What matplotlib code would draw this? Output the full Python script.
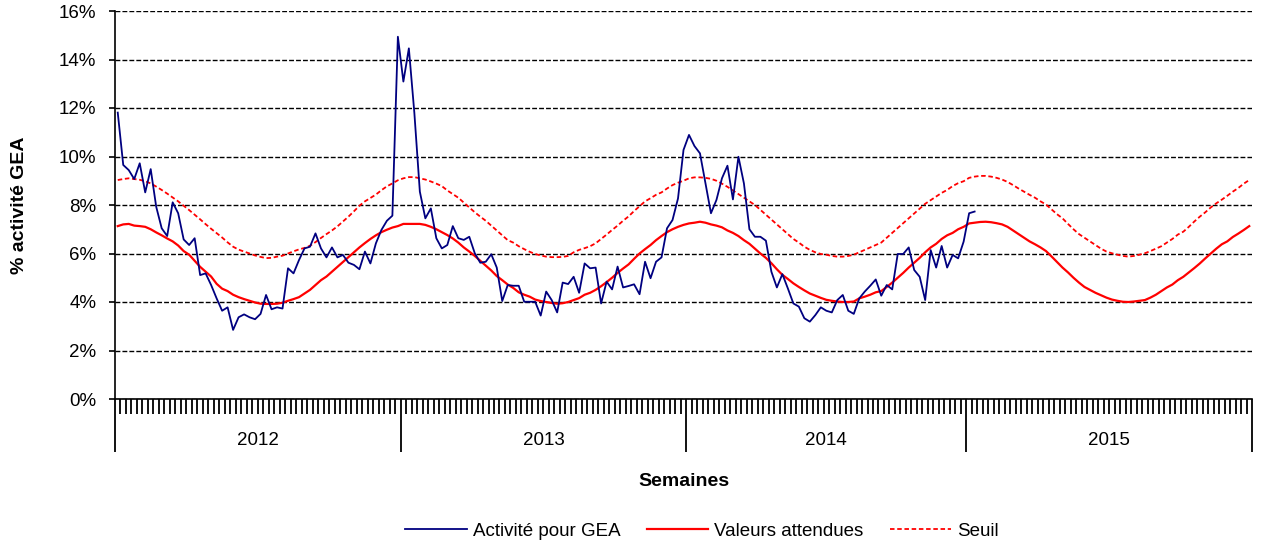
import numpy as np
import matplotlib
matplotlib.use("Agg")
import matplotlib.pyplot as plt
from matplotlib.ticker import FixedLocator, FuncFormatter

plt.rcParams['font.family'] = ['Liberation Sans', 'DejaVu Sans']

# années et nombre de semaines affichées
years = ['2012', '2013', '2014', '2015']
weeks_per_year = [52, 52, 51, 52]

# % activité pour GEA (hebdomadaire, 2012 -> début 2015)
activite = [
    # 2012
    11.81, 9.65, 9.44, 9.07, 9.72, 8.52, 9.48, 7.93, 7.04, 6.72, 8.11, 7.66, 6.58,
    6.35, 6.63, 5.11, 5.18, 4.70, 4.15, 3.64, 3.78, 2.85, 3.37, 3.49, 3.37, 3.29,
    3.51, 4.29, 3.70, 3.78, 3.73, 5.39, 5.18, 5.73, 6.21, 6.28, 6.83, 6.21, 5.84,
    6.25, 5.84, 5.94, 5.62, 5.53, 5.35, 6.08, 5.59, 6.42, 6.97, 7.35, 7.56, 14.94,
    # 2013
    13.09, 14.46, 11.8, 8.55, 7.45, 7.86, 6.63, 6.21, 6.35, 7.13, 6.63, 6.56, 6.69,
    6.01, 5.62, 5.66, 5.97, 5.42, 4.04, 4.70, 4.67, 4.67, 4.01, 4.01, 4.01, 3.44,
    4.43, 4.08, 3.57, 4.80, 4.74, 5.04, 4.38, 5.59, 5.39, 5.42, 3.94, 4.84, 4.52,
    5.46, 4.60, 4.66, 4.73, 4.32, 5.66, 4.98, 5.66, 5.84, 7.04, 7.38, 8.27, 10.27,
    # 2014 + début 2015
    10.89, 10.43, 10.13, 8.9, 7.66, 8.21, 9.10, 9.62, 8.23, 9.99, 8.89, 7.00, 6.69,
    6.69, 6.53, 5.25, 4.60, 5.15, 4.56, 3.94, 3.81, 3.33, 3.19, 3.46, 3.78, 3.64,
    3.57, 4.08, 4.29, 3.64, 3.51, 4.15, 4.43, 4.67, 4.93, 4.26, 4.70, 4.52, 5.98,
    5.98, 6.25, 5.32, 5.04, 4.08, 6.14, 5.42, 6.31, 5.42, 5.94, 5.80, 6.49, 7.66,
    7.73,
]

# valeurs attendues
attendues = [
    # 2012
    7.13, 7.2, 7.22, 7.15, 7.13, 7.10, 7.0, 6.87, 6.75, 6.62, 6.5, 6.33, 6.1,
    5.95, 5.7, 5.45, 5.25, 5.05, 4.75, 4.55, 4.45, 4.3, 4.2, 4.12, 4.05, 3.98,
    3.93, 3.92, 3.92, 3.93, 3.97, 4.05, 4.12, 4.2, 4.35, 4.5, 4.7, 4.9, 5.05,
    5.25, 5.45, 5.65, 5.85, 6.05, 6.25, 6.43, 6.6, 6.75, 6.88, 6.98, 7.07, 7.13,
    # 2013
    7.22, 7.22, 7.22, 7.22, 7.18, 7.1, 7.0, 6.88, 6.76, 6.62, 6.45, 6.25, 6.08,
    5.9, 5.7, 5.5, 5.3, 5.07, 4.9, 4.72, 4.58, 4.4, 4.3, 4.22, 4.1, 4.04,
    4.0, 3.96, 3.93, 3.95, 4.0, 4.08, 4.16, 4.3, 4.38, 4.5, 4.65, 4.82, 5.0,
    5.2, 5.38, 5.55, 5.78, 6.0, 6.18, 6.35, 6.55, 6.72, 6.88, 7.0, 7.1, 7.18,
    # 2014
    7.24, 7.27, 7.31, 7.27, 7.2, 7.15, 7.08, 6.95, 6.85, 6.72, 6.55, 6.4, 6.2,
    6.0, 5.82, 5.6, 5.35, 5.12, 4.95, 4.77, 4.62, 4.48, 4.35, 4.26, 4.17, 4.09,
    4.05, 4.02, 4.0, 4.0, 4.02, 4.15, 4.22, 4.3, 4.4, 4.45, 4.62, 4.8, 5.0,
    5.2, 5.42, 5.62, 5.82, 6.05, 6.25, 6.4, 6.6, 6.75, 6.85, 7.0, 7.1,
    # 2015
    7.24, 7.27, 7.3, 7.31, 7.29, 7.25, 7.2, 7.1, 6.95, 6.8, 6.65, 6.5, 6.38,
    6.25, 6.1, 5.88, 5.65, 5.42, 5.22, 5.0, 4.8, 4.62, 4.5, 4.38, 4.28, 4.18,
    4.1, 4.05, 4.01, 4.0, 4.02, 4.05, 4.08, 4.18, 4.3, 4.45, 4.6, 4.72, 4.9,
    5.04, 5.22, 5.4, 5.59, 5.8, 6.0, 6.2, 6.38, 6.5, 6.68, 6.82, 6.97, 7.13,
]

# seuil épidémique
seuil = [
    # 2012
    9.03, 9.07, 9.10, 9.07, 9.04, 8.98, 8.89, 8.76, 8.62, 8.47, 8.31, 8.15, 7.97,
    7.79, 7.60, 7.41, 7.21, 7.02, 6.84, 6.66, 6.46, 6.28, 6.16, 6.08, 6.0, 5.92,
    5.86, 5.81, 5.82, 5.87, 5.91, 6.0, 6.09, 6.17, 6.23, 6.32, 6.47, 6.64, 6.80,
    6.95, 7.12, 7.32, 7.52, 7.74, 7.97, 8.15, 8.29, 8.43, 8.61, 8.77, 8.89, 9.02,
    # 2013
    9.1, 9.15, 9.15, 9.1, 9.05, 8.97, 8.88, 8.78, 8.6, 8.45, 8.3, 8.1, 7.9,
    7.7, 7.52, 7.35, 7.15, 6.95, 6.75, 6.55, 6.45, 6.3, 6.18, 6.07, 5.98, 5.92,
    5.87, 5.85, 5.85, 5.86, 5.9, 6.05, 6.15, 6.22, 6.3, 6.42, 6.6, 6.78, 6.97,
    7.15, 7.35, 7.53, 7.75, 7.95, 8.15, 8.28, 8.42, 8.52, 8.68, 8.82, 8.92, 9.0,
    # 2014
    9.1, 9.14, 9.14, 9.12, 9.08, 9.0, 8.88, 8.75, 8.6, 8.45, 8.3, 8.15, 8.0,
    7.8, 7.6, 7.4, 7.2, 7.0, 6.8, 6.6, 6.45, 6.28, 6.15, 6.05, 5.98, 5.95,
    5.9, 5.87, 5.87, 5.9, 5.95, 6.05, 6.15, 6.25, 6.35, 6.45, 6.65, 6.85, 7.05,
    7.25, 7.45, 7.65, 7.85, 8.05, 8.2, 8.35, 8.5, 8.62, 8.78, 8.9, 8.98,
    # 2015
    9.12, 9.17, 9.2, 9.2, 9.17, 9.12, 9.05, 8.95, 8.82, 8.68, 8.55, 8.42, 8.3,
    8.15, 8.02, 7.82, 7.62, 7.45, 7.22, 7.0, 6.8, 6.65, 6.5, 6.35, 6.2, 6.08,
    6.01, 5.95, 5.9, 5.87, 5.9, 5.95, 6.01, 6.1, 6.2, 6.3, 6.45, 6.6, 6.78,
    6.9, 7.1, 7.32, 7.52, 7.7, 7.9, 8.07, 8.22, 8.38, 8.55, 8.7, 8.88, 9.03,
]

n_weeks = sum(weeks_per_year)
x_all = np.arange(n_weeks) + 0.5
x_act = np.arange(len(activite)) + 0.5

fig = plt.figure(figsize=(12.66, 5.47), dpi=100)
ax = fig.add_axes([115 / 1266, 1 - 399 / 547, (1252 - 115) / 1266, (399 - 11) / 547])

ax.plot(x_act, activite, color='#000080', lw=1.3, label='Activité pour GEA', zorder=4)
ax.plot(x_all, attendues, color='#ff0000', lw=1.6, label='Valeurs attendues', zorder=3)
ax.plot(x_all, seuil, color='#ff0000', lw=1.3, linestyle=(0, (2.5, 1.5)),
        label='Seuil', zorder=3)

ax.set_xlim(0, n_weeks)
ax.set_ylim(0, 16)
ax.set_yticks(np.arange(0, 17, 2))
ax.yaxis.set_major_formatter(FuncFormatter(lambda v, p: f"{v:.0f}%"))
ax.yaxis.grid(True, color='black', linestyle=(0, (3.5, 1.5)), linewidth=1.0)
ax.set_axisbelow(True)

for s in ['top', 'right']:
    ax.spines[s].set_visible(False)
ax.spines['left'].set_linewidth(1.2)
ax.spines['bottom'].set_linewidth(1.2)

ax.tick_params(axis='y', length=4.5, width=1.2, pad=9, labelsize=13.5)

# traits d'année longs, un petit trait par semaine
bounds = np.concatenate([[0], np.cumsum(weeks_per_year)])
ax.xaxis.set_major_locator(FixedLocator(bounds))
ax.xaxis.set_minor_locator(FixedLocator(np.arange(n_weeks + 1)))
ax.tick_params(axis='x', which='major', length=38, width=1.3, labelbottom=False)
ax.tick_params(axis='x', which='minor', length=11, width=1.3)

for k, yr in enumerate(years):
    mid = (bounds[k] + bounds[k + 1]) / 2
    ax.annotate(yr, xy=(mid, 0), xycoords=('data', 'axes fraction'),
                xytext=(0, -30), textcoords='offset points',
                ha='center', va='center', fontsize=13.5)

fig.text((115 + 1252) / 2 / 1266, 1 - 481 / 547, 'Semaines', ha='center', va='center',
         fontsize=14, fontweight='bold')
fig.text(20 / 1266, 1 - 205 / 547, '% activité GEA', ha='center', va='center',
         rotation=90, fontsize=14, fontweight='bold')

fig.legend(loc='center', bbox_to_anchor=(702 / 1266, 1 - 531 / 547), ncol=3,
           frameon=False, fontsize=13.5, handlelength=3.3, handletextpad=0.3,
           columnspacing=1.4)

fig.savefig('out.png', dpi=100)
